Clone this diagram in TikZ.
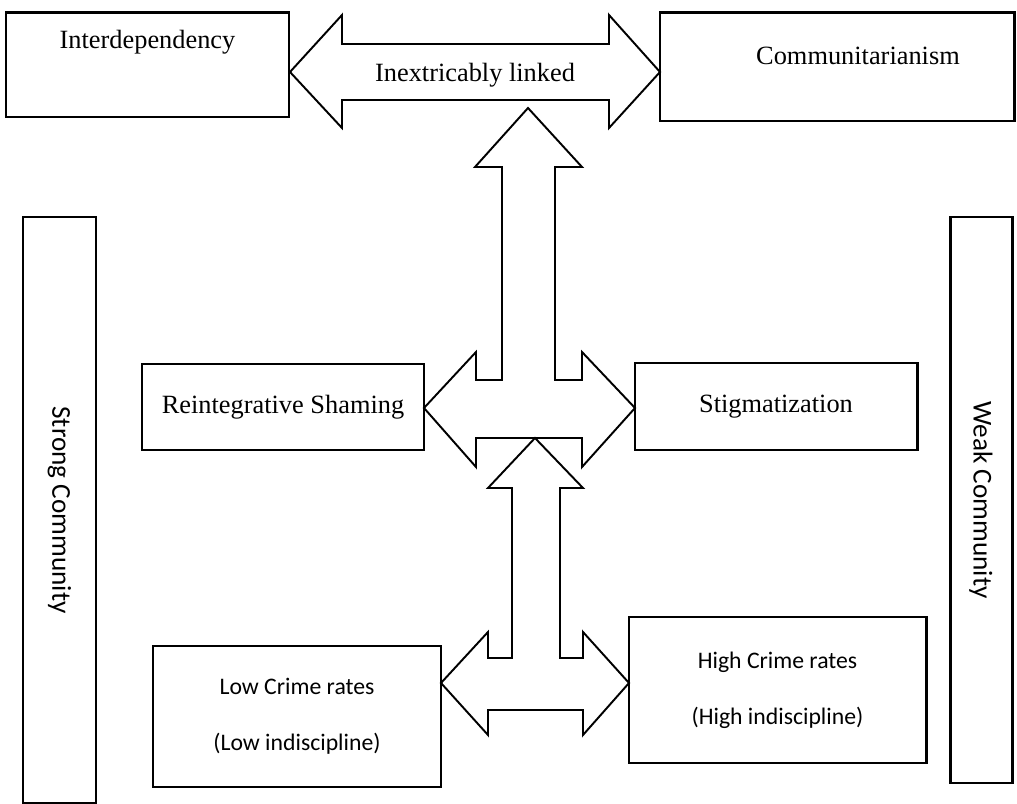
\documentclass[tikz,border=0pt]{standalone}
\usepackage{fontspec}
\newfontfamily\serifface{Liberation Serif}
\newfontfamily\sansface{Carlito}
\newcommand{\pxu}{0.2mm}

\begin{document}
\begin{tikzpicture}[
  x=\pxu, y=-\pxu,
  riquadro/.style={draw=black, fill=white, line width=1.7pt, inner sep=0pt},
  serifo/.style={font=\serifface\fontsize{15}{18}\selectfont},
  bastone/.style={font=\sansface\fontsize{13.5}{16}\selectfont, align=center},
  frecciona/.style={draw=black, fill=white, line width=1.1pt, line join=miter}
]
\useasboundingbox (0,0) rectangle (1017,804);

% riquadri
\node[riquadro, minimum width=283*\pxu, minimum height=104*\pxu] (ID) at (147.5,65) {};
\node[riquadro, minimum width=354*\pxu, minimum height=108*\pxu] (CM) at (837,67) {};
\node[riquadro, serifo, minimum width=282*\pxu, minimum height=86*\pxu] (RS) at (283,407) {Reintegrative Shaming};
\node[riquadro, serifo, minimum width=282*\pxu, minimum height=87*\pxu] (ST) at (776,406.5) {Stigmatization};
\node[riquadro, bastone, minimum width=288*\pxu, minimum height=141*\pxu] (LC) at (297,716.5)
  {Low Crime rates\\[16pt] (Low indiscipline)};
\node[riquadro, bastone, minimum width=297*\pxu, minimum height=146*\pxu] (HC) at (777.5,690)
  {High Crime rates\\[16pt] (High indiscipline)};
\node[riquadro, bastone, font=\sansface\fontsize{15.5}{18}\selectfont, rotate=-90,
  minimum width=586*\pxu, minimum height=73*\pxu] (SC) at (59.5,510) {Strong Community};
\node[riquadro, bastone, font=\sansface\fontsize{15.5}{18}\selectfont, rotate=-90,
  minimum width=566*\pxu, minimum height=62*\pxu] (WC) at (981,500) {Weak Community};

\node[serifo, anchor=base] (IDt) at (147.5,49) {Interdependency};
\node[serifo, anchor=base] (CMt) at (858,65) {Communitarianism};

% frecce
\draw[frecciona] (290,72) -- (342,15) -- (342,44) -- (609,44) -- (609,15) -- (660,72)
  -- (609,128) -- (609,100) -- (342,100) -- (342,128) -- cycle;
\node[serifo, anchor=base] (IL) at (475,82) {Inextricably linked};

\draw[frecciona] (528,108) -- (582,167) -- (555,167) -- (555,380) -- (582,380) -- (582,352)
  -- (635,408) -- (582,467) -- (582,438) -- (476,438) -- (476,467) -- (424,408)
  -- (476,352) -- (476,380) -- (502,380) -- (502,167) -- (475,167) -- cycle;

\draw[frecciona] (535,438) -- (583,488) -- (560,488) -- (560,658) -- (583,658) -- (583,632)
  -- (629,683) -- (583,735) -- (583,710) -- (488,710) -- (488,735) -- (441,683)
  -- (488,632) -- (488,658) -- (512,658) -- (512,488) -- (488,488) -- cycle;

\end{tikzpicture}
\end{document}
